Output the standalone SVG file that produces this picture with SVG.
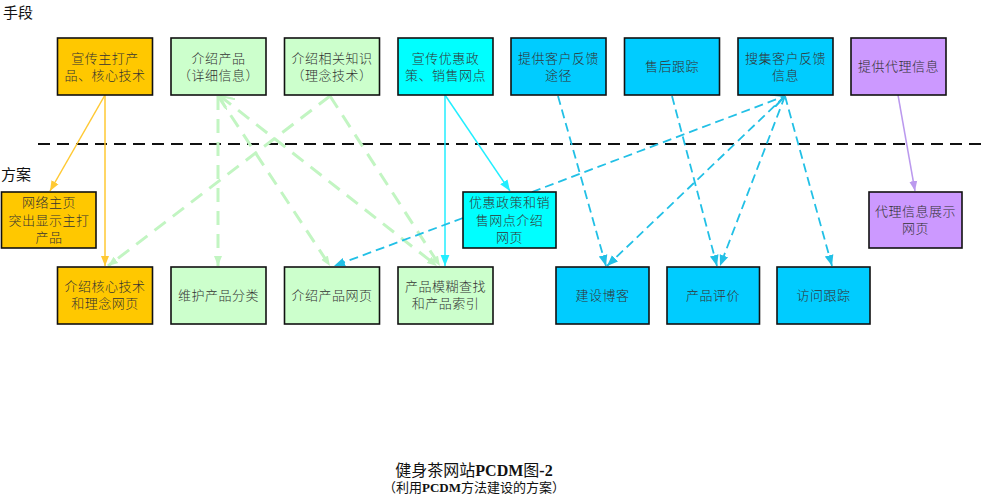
<svg xmlns="http://www.w3.org/2000/svg" width="985" height="500" viewBox="0 0 985 500">
<style>
.box{stroke:#111;stroke-width:1.6}
.or{fill:#FFC800}
.gr{fill:#CCFFCC}
.cy{fill:#00FFFF}
.bl{fill:#00CCFF}
.pu{fill:#CC99FF}
.t{font-family:"Liberation Serif","Noto Sans CJK SC",serif;font-size:13px;font-weight:300;letter-spacing:0.5px;fill:#333;text-anchor:middle}
.lbl{font-family:"Liberation Serif","Noto Sans CJK SC",sans-serif;font-size:15px;fill:#111}
.cap{font-family:"Liberation Serif","Noto Sans CJK SC",serif;fill:#111;text-anchor:middle}
.c-or{stroke:#FFC933;stroke-width:1.5;fill:none}
.c-cy{stroke:#22EEFF;stroke-width:1.5;fill:none}
.c-pu{stroke:#BB99EE;stroke-width:1.5;fill:none}
.c-gr{stroke:#C2F5C2;stroke-width:3;fill:none;stroke-dasharray:14 9}
.c-bl{stroke:#22C0E6;stroke-width:1.8;fill:none;stroke-dasharray:9 5}
</style>
<defs>
<marker id="a-or" markerUnits="userSpaceOnUse" markerWidth="10" markerHeight="10" refX="10" refY="5" orient="auto" viewBox="0 0 10 10"><path d="M0,1 L10,5 L0,9 Z" fill="#FFC933"/></marker>
<marker id="a-cy" markerUnits="userSpaceOnUse" markerWidth="11" markerHeight="11" refX="10" refY="5" orient="auto" viewBox="0 0 10 10"><path d="M0,1 L10,5 L0,9 Z" fill="#22EEFF"/></marker>
<marker id="a-pu" markerUnits="userSpaceOnUse" markerWidth="10" markerHeight="10" refX="10" refY="5" orient="auto" viewBox="0 0 10 10"><path d="M0,1 L10,5 L0,9 Z" fill="#BB99EE"/></marker>
<marker id="a-gr" markerUnits="userSpaceOnUse" markerWidth="10" markerHeight="10" refX="10" refY="5" orient="auto" viewBox="0 0 10 10"><path d="M0,1 L10,5 L0,9 Z" fill="#C2F5C2"/></marker>
<marker id="a-bl" markerUnits="userSpaceOnUse" markerWidth="11" markerHeight="11" refX="10" refY="5" orient="auto" viewBox="0 0 10 10"><path d="M0,1 L10,5 L0,9 Z" fill="#22C0E6"/></marker>
<marker id="o-gr" markerUnits="userSpaceOnUse" markerWidth="14" markerHeight="14" refX="10" refY="5" orient="auto-start-reverse" viewBox="0 0 10 10"><path d="M0,0 L10,5 L0,10" fill="none" stroke="#C2F5C2" stroke-width="1.5"/></marker>
<marker id="o-bl" markerUnits="userSpaceOnUse" markerWidth="14" markerHeight="14" refX="10" refY="5" orient="auto" viewBox="0 0 10 10"><path d="M0,0 L10,5 L0,10" fill="none" stroke="#22C0E6" stroke-width="1.5"/></marker>
</defs>
<rect width="985" height="500" fill="#fff"/>

<text class="lbl" x="3" y="18">手段</text>
<text class="lbl" x="1" y="180">方案</text>
<line x1="38" y1="144" x2="985" y2="144" stroke="#111" stroke-width="2" stroke-dasharray="12 7"/>

<g id="connectors">
<line class="c-gr" x1="218" y1="96" x2="218" y2="266" marker-end="url(#a-gr)"/>
<line class="c-gr" x1="218" y1="96" x2="330" y2="266" marker-end="url(#a-gr)"/>
<line class="c-gr" x1="220" y1="96" x2="437" y2="266" marker-start="url(#o-gr)" marker-end="url(#a-gr)"/>
<line class="c-gr" x1="330" y1="96" x2="108" y2="266" marker-end="url(#a-gr)"/>
<line class="c-gr" x1="330" y1="96" x2="440" y2="266" marker-end="url(#a-gr)"/>
<line class="c-or" x1="105" y1="95" x2="50" y2="191" marker-end="url(#a-or)"/>
<line class="c-or" x1="105" y1="95" x2="105" y2="266" marker-end="url(#a-or)"/>
<line class="c-cy" x1="445" y1="95" x2="445" y2="266" marker-end="url(#a-cy)"/>
<line class="c-cy" x1="445" y1="95" x2="510" y2="191" marker-end="url(#a-cy)"/>
<line class="c-pu" x1="898" y1="95" x2="915" y2="191" marker-end="url(#a-pu)"/>
<line class="c-bl" x1="532" y1="192" x2="785" y2="96" marker-end="url(#o-bl)"/>
<line class="c-bl" x1="463" y1="218" x2="334" y2="266" marker-end="url(#a-bl)"/>
<line class="c-bl" x1="558" y1="96" x2="606" y2="266" marker-end="url(#a-bl)"/>
<line class="c-bl" x1="672" y1="96" x2="717" y2="266" marker-end="url(#a-bl)"/>
<line class="c-bl" x1="785" y1="96" x2="607" y2="266" marker-end="url(#a-bl)"/>
<line class="c-bl" x1="785" y1="96" x2="720" y2="266" marker-end="url(#a-bl)"/>
<line class="c-bl" x1="785" y1="96" x2="832" y2="266" marker-end="url(#a-bl)"/>
</g>

<g id="n1"><rect class="box or" x="57.5" y="38" width="95" height="57"/><text class="t" x="105" y="63">宣传主打产</text><text class="t" x="105" y="80">品、核心技术</text></g>
<g id="n2"><rect class="box gr" x="171" y="38" width="95" height="57"/><text class="t" x="218.5" y="63">介绍产品</text><text class="t" x="218.5" y="80">（详细信息）</text></g>
<g id="n3"><rect class="box gr" x="284.5" y="38" width="95" height="57"/><text class="t" x="332" y="63">介绍相关知识</text><text class="t" x="332" y="80">（理念技术）</text></g>
<g id="n4"><rect class="box cy" x="398" y="38" width="95" height="57"/><text class="t" x="445.5" y="63">宣传优惠政</text><text class="t" x="445.5" y="80">策、销售网点</text></g>
<g id="n5"><rect class="box bl" x="511" y="38" width="95" height="57"/><text class="t" x="558.5" y="63">提供客户反馈</text><text class="t" x="558.5" y="80">途径</text></g>
<g id="n6"><rect class="box bl" x="624.5" y="38" width="95" height="57"/><text class="t" x="672" y="71">售后跟踪</text></g>
<g id="n7"><rect class="box bl" x="738" y="38" width="95" height="57"/><text class="t" x="785.5" y="63">搜集客户反馈</text><text class="t" x="785.5" y="80">信息</text></g>
<g id="n8"><rect class="box pu" x="851" y="38" width="95" height="57"/><text class="t" x="898.5" y="71">提供代理信息</text></g>

<g id="n9"><rect class="box or" x="1.5" y="192" width="94.5" height="56"/><text class="t" x="49" y="207">网络主页</text><text class="t" x="49" y="224.5">突出显示主打</text><text class="t" x="49" y="242">产品</text></g>
<g id="n10"><rect class="box cy" x="463" y="192" width="93" height="56"/><text class="t" x="509.5" y="207">优惠政策和销</text><text class="t" x="509.5" y="224.5">售网点介绍</text><text class="t" x="509.5" y="242">网页</text></g>
<g id="n11"><rect class="box pu" x="869" y="192" width="93" height="56"/><text class="t" x="915.5" y="216">代理信息展示</text><text class="t" x="915.5" y="233">网页</text></g>

<g id="n12"><rect class="box or" x="57.5" y="267" width="95" height="57"/><text class="t" x="105" y="291">介绍核心技术</text><text class="t" x="105" y="308">和理念网页</text></g>
<g id="n13"><rect class="box gr" x="171" y="267" width="95" height="57"/><text class="t" x="218.5" y="300">维护产品分类</text></g>
<g id="n14"><rect class="box gr" x="284.5" y="267" width="95" height="57"/><text class="t" x="332" y="300">介绍产品网页</text></g>
<g id="n15"><rect class="box gr" x="398" y="267" width="95" height="57"/><text class="t" x="445.5" y="291">产品模糊查找</text><text class="t" x="445.5" y="308">和产品索引</text></g>
<g id="n16"><rect class="box bl" x="556" y="267" width="93" height="57"/><text class="t" x="602.5" y="300">建设博客</text></g>
<g id="n17"><rect class="box bl" x="667" y="267" width="92.5" height="57"/><text class="t" x="713" y="300">产品评价</text></g>
<g id="n18"><rect class="box bl" x="777" y="267" width="93" height="57"/><text class="t" x="823.5" y="300">访问跟踪</text></g>

<text class="cap" x="474" y="476" font-size="16">健身茶网站<tspan font-weight="bold">PCDM</tspan>图<tspan font-weight="bold">-2</tspan></text>
<text class="cap" x="474" y="492" font-size="13">（利用<tspan font-weight="bold">PCDM</tspan>方法建设的方案）</text>
</svg>
